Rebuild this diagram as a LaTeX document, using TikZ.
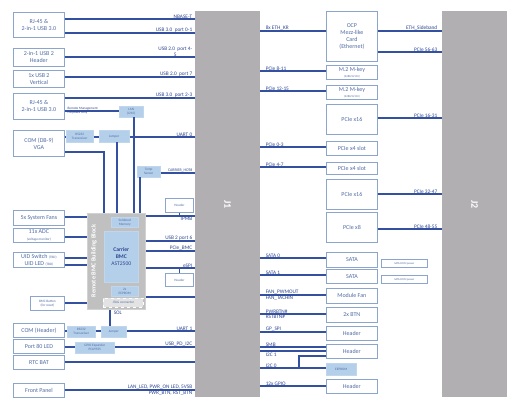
\documentclass[tikz,border=0pt]{standalone}
\usepackage{fontspec}
\setmainfont{Carlito}
\definecolor{ln}{RGB}{52,80,160}
\definecolor{bd}{RGB}{140,165,205}
\definecolor{tx}{RGB}{80,108,165}
\definecolor{lb}{RGB}{45,70,145}
\definecolor{fillb}{RGB}{180,207,234}
\definecolor{jg}{RGB}{177,175,177}
\definecolor{bmcg}{RGB}{192,192,192}
\newcommand\ftb{\fontsize{6}{6.9}\selectfont}
\newcommand\flb{\fontsize{5.3}{5.8}\selectfont}
\newcommand\fti{\fontsize{3.4}{4}\selectfont}
\newcommand\fmi{\fontsize{2.8}{3.2}\selectfont}
\newcommand\bx[6]{\node[#1,anchor=north west,minimum width=#4pt,minimum height=#5pt] (#2) at (#3) {#6};}
\begin{document}
\begin{tikzpicture}[x=1pt,y=-1pt,
  box/.style={draw=bd,line width=0.8pt,fill=white,text=tx,inner sep=0pt,align=center,font=\ftb},
  lbox/.style={draw=fillb!85!white,line width=0.5pt,fill=fillb,text=tx,inner sep=0pt,align=center,font=\fti},
  wire/.style={draw=ln,line width=1.8pt},
  lab/.style={text=lb,font=\flb,inner sep=0.6pt},
  tlab/.style={text=lb,font=\fti,inner sep=0.4pt}]
\useasboundingbox (0,0) rectangle (525,411);
\fill[white] (0,0) rectangle (525,411);
% connectors J1, J2
\bx{fill=jg,inner sep=0pt}{J1}{195,11}{65}{386}{}
\bx{fill=jg,inner sep=0pt}{J2}{442,11}{65}{386}{}
\node[text=white,font=\bfseries\fontsize{10}{10}\selectfont,rotate=-90] at (J1.center) {J1};
\node[text=white,font=\bfseries\fontsize{10}{10}\selectfont,rotate=-90] at (J2.center) {J2};
% left column
\bx{box}{rjA}{13,12}{51}{25}{RJ-45 \&\\2-in-1 USB 3.0}
\bx{box}{usbh}{13,48}{51}{18}{2-in-1 USB 2\\Header}
\bx{box}{usbv}{13,70}{51}{17}{1x USB 2\\Vertical}
\bx{box}{rjB}{13,93}{51}{26}{RJ-45 \&\\2-in-1 USB 3.0}
\bx{box}{com}{13,130}{51}{26}{COM (DB-9)\\VGA}
\bx{box}{fans}{13,210}{51}{15}{5x System Fans}
\bx{box}{adc}{13,228}{51}{14}{11x ADC\\{\fti (voltage monitor)}}
\bx{box}{uid}{13,252}{51}{15}{UID Switch {\fti (TBD)}\\UID LED {\fti (TBD)}}
\bx{box,font=\fti}{bbtn}{30,296}{34}{14}{BMC Button\\(for reset)}
\bx{box}{comh}{13,323}{51}{14}{COM (Header)}
\bx{box}{p80}{13,339}{51}{14}{Port 80 LED}
\bx{box}{rtc}{13,355}{51}{14}{RTC BAT}
\bx{box}{fp}{13,383}{51}{14}{Front Panel}
% small blue boxes
\bx{lbox}{lan}{119,106}{24}{11}{LAN\\(I210)}
\bx{lbox}{tr0}{66,130}{27}{12}{RS232\\Transceiver}
\bx{lbox}{jp0}{99,130}{30}{12}{Jumper}
\bx{lbox}{temp}{137,166}{23}{11}{Temp\\Sensor}
\bx{lbox}{tr1}{67,326}{28}{11}{RS232\\Transceiver}
\bx{lbox}{jp1}{101,326}{25}{11}{Jumper}
\bx{lbox}{gpio}{75,342}{39}{11}{GPIO Expander\\PCA9555}
\bx{box,font=\fti}{hdr1}{165,198}{28}{14}{Header}
\bx{box,font=\fti}{hdr2}{165,273}{28}{13}{Header}
% BMC block
\bx{fill=bmcg,draw=gray!35,line width=0.8pt}{blk}{87,213}{58}{96}{}
\node[text=white,font=\bfseries\fontsize{6.3}{6.3}\selectfont,rotate=90] at (94,261) {Remote BMC Building Block};
\bx{lbox}{mem}{111,217}{27}{10}{Soldered\\Memory}
\bx{lbox,font=\fontsize{5.6}{6.8}\selectfont,text=lb}{bmc}{104,231}{34}{51}{\textbf{Carrier}\\\textbf{BMC}\\AST2500}
\bx{lbox}{eep}{111,286}{27}{10}{2x\\EEPROM}
\bx{box,draw=white,dashed,fill=bmcg!45!white,font=\fti}{jtag}{103,298}{40}{9}{JTAG connector}
% right column
\bx{box}{ocp}{326,11}{51}{50}{OCP\\Mezz-like\\Card\\(Ethernet)}
\bx{box}{m2a}{326,65}{51}{14}{M.2 M-key\\[-1pt]{\fmi (2280/22110)}}
\bx{box}{m2b}{326,85}{51}{14}{M.2 M-key\\[-1pt]{\fmi (2280/22110)}}
\bx{box}{x16a}{326,104}{51}{30}{PCIe x16}
\bx{box}{x4a}{326,141}{51}{14}{PCIe x4 slot}
\bx{box}{x4b}{326,162}{51}{12}{PCIe x4 slot}
\bx{box}{x16b}{326,179}{51}{30}{PCIe x16}
\bx{box}{x8}{326,212}{51}{30}{PCIe x8}
\bx{box}{sata1}{326,252}{51}{15}{SATA}
\bx{box}{sata2}{326,269}{51}{14}{SATA}
\bx{box,font=\fmi}{dom1}{381,259}{46}{8}{SATA DOM power}
\bx{box,font=\fmi}{dom2}{381,275}{46}{8}{SATA DOM power}
\bx{box}{mfan}{326,288}{51}{15}{Module Fan}
\bx{box}{btn}{326,307}{51}{15}{2x BTN}
\bx{box}{hA}{326,326}{51}{14}{Header}
\bx{box}{hB}{326,344}{51}{14}{Header}
\bx{lbox}{eeprom}{326,363}{30}{12}{EEPROM}
\bx{box}{hC}{326,379}{51}{14}{Header}
% ---- wires left of J1
\draw[wire] (rjA.east |- 0,19) -- (J1.west |- 0,19);
\draw[wire] (rjA.east |- 0,33) -- (J1.west |- 0,33);
\draw[wire] (usbh.east |- 0,57) -- (J1.west |- 0,57);
\draw[wire] (usbv.east |- 0,77) -- (J1.west |- 0,77);
\draw[wire] (rjB.east |- 0,98) -- (J1.west |- 0,98);
\draw[wire] (rjB.east |- 0,111) -- (lan.west |- 0,111);
\draw[wire] (134,0 |- lan.south) -- (134,0 |- blk.north);
\draw[wire] (com.east |- 0,137) -- (tr0.west |- 0,137);
\draw[wire] (tr0.east |- 0,137) -- (jp0.west |- 0,137);
\draw[wire] (jp0.east |- 0,137) -- (J1.west |- 0,137);
\draw[wire] (com.east |- 0,152) -- (104,152) -- (104,0 |- blk.north);
\draw[wire] (117,0 |- jp0.south) -- (117,0 |- blk.north);
\draw[wire] (140,0 |- temp.south) -- (140,0 |- blk.north);
\draw[wire] (temp.east |- 0,173) -- (J1.west |- 0,173);
\draw[wire] (hdr1.south) -- (hdr1.south |- 0,216);
\draw[wire] (blk.east |- 0,216) -- (J1.west |- 0,216);
\draw[wire] (blk.east |- 0,241) -- (J1.west |- 0,241);
\draw[wire] (blk.east |- 0,251) -- (J1.west |- 0,251);
\draw[wire] (blk.east |- 0,268) -- (J1.west |- 0,268);
\draw[wire] (hdr2.north) -- (hdr2.north |- 0,268);
\draw[wire] (blk.east |- 0,297) -- (J1.west |- 0,297);
\draw[wire] (fans.east |- 0,217) -- (blk.west |- 0,217);
\draw[wire] (adc.east |- 0,237) -- (blk.west |- 0,237);
\draw[wire] (uid.east |- 0,258) -- (blk.west |- 0,258);
\draw[wire] (uid.east |- 0,265) -- (blk.west |- 0,265);
\draw[wire] (bbtn.east |- 0,303) -- (blk.west |- 0,303);
\draw[wire] (110,0 |- blk.south) -- (110,0 |- jp1.north);
\draw[wire] (comh.east |- 0,331) -- (tr1.west |- 0,331);
\draw[wire] (tr1.east |- 0,331) -- (jp1.west |- 0,331);
\draw[wire] (jp1.east |- 0,331) -- (J1.west |- 0,331);
\draw[wire] (p80.east |- 0,347) -- (gpio.west |- 0,347);
\draw[wire] (gpio.east |- 0,347) -- (J1.west |- 0,347);
\draw[wire] (rtc.east |- 0,362) -- (J1.west |- 0,362);
\draw[wire] (fp.east |- 0,390) -- (J1.west |- 0,390);
% labels left of J1
\node[lab,anchor=south east] at (193,19) {NBASE-T};
\node[lab,anchor=south east] at (193,33) {USB 3.0\ \ port 0-1};
\node[lab,anchor=south east,align=center] at (193,57) {USB 2.0\ \ port 4-\\5};
\node[lab,anchor=south east] at (193,77) {USB 2.0\ \ port 7};
\node[lab,anchor=south east] at (193,98) {USB 3.0\ \ port 2-3};
\node[tlab,anchor=south west] at (67,111) {Remote Management};
\node[tlab,anchor=north west] at (67,111) {Purposes Only};
\node[lab,anchor=south east] at (193,137) {UART 0};
\node[tlab,font=\fontsize{3.9}{4.4}\selectfont,anchor=south east] at (193,173) {CARRIER\_HOT\#};
\node[lab,anchor=north east] at (193,216) {IPMB};
\node[lab,anchor=south east] at (193,241) {USB 2 port 6};
\node[lab,anchor=south east] at (193,251) {PCIe\_BMC};
\node[lab,anchor=south east] at (193,268) {eSPI};
\node[lab,anchor=west] at (113,313) {SOL};
\node[lab,anchor=south east] at (193,331) {UART 1};
\node[lab,anchor=south east] at (193,347) {USB\_PD\_I2C};
\node[lab,anchor=south east] at (193,390) {LAN\_LED, PWR\_ON LED, 5VSB};
\node[lab,anchor=north east] at (193,390) {PWR\_BTN, RST\_BTN};
% ---- wires right of J1
\draw[wire] (J1.east |- 0,31) -- (ocp.west |- 0,31);
\draw[wire] (J1.east |- 0,71) -- (m2a.west |- 0,71);
\draw[wire] (J1.east |- 0,91) -- (m2b.west |- 0,91);
\draw[wire] (J1.east |- 0,147) -- (x4a.west |- 0,147);
\draw[wire] (J1.east |- 0,167) -- (x4b.west |- 0,167);
\draw[wire] (J1.east |- 0,258) -- (sata1.west |- 0,258);
\draw[wire] (J1.east |- 0,275) -- (sata2.west |- 0,275);
\draw[wire] (J1.east |- 0,295) -- (mfan.west |- 0,295);
\draw[wire] (J1.east |- 0,314) -- (btn.west |- 0,314);
\draw[wire] (J1.east |- 0,332) -- (hA.west |- 0,332);
\draw[wire] (J1.east |- 0,347) -- (hB.west |- 0,347);
\draw[wire] (J1.east |- 0,351) -- (hB.west |- 0,351);
\draw[wire] (J1.east |- 0,368) -- (eeprom.west |- 0,368);
\draw[wire] (299,368) -- (299,356) -- (hB.west |- 0,356);
\draw[wire] (J1.east |- 0,386) -- (hC.west |- 0,386);
\node[lab,anchor=south west] at (265,31) {8x ETH\_KR};
\node[lab,anchor=south west] at (265,71) {PCIe 8-11};
\node[lab,anchor=south west] at (265,91) {PCIe 12-15};
\node[lab,anchor=south west] at (265,147) {PCIe 0-3};
\node[lab,anchor=south west] at (265,167) {PCIe 4-7};
\node[lab,anchor=south west] at (265,258) {SATA 0};
\node[lab,anchor=south west] at (265,275) {SATA 1};
\node[lab,anchor=south west] at (265,295) {FAN\_PWMOUT};
\node[lab,anchor=north west] at (265,295) {FAN\_TACHIN};
\node[lab,anchor=south west] at (265,314) {PWRBTN\#};
\node[lab,anchor=north west] at (265,314) {RSTBTN\#};
\node[lab,anchor=south west] at (265,332) {GP\_SPI};
\node[lab,anchor=south west] at (265,347) {SMB};
\node[lab,anchor=north west] at (265,352) {I2C 1};
\node[lab,anchor=south west] at (265,368) {I2C 0};
\node[lab,anchor=south west] at (265,386) {12x GPIO};
% ---- wires to J2
\draw[wire] (ocp.east |- 0,31) -- (J2.west |- 0,31);
\draw[wire] (ocp.east |- 0,52) -- (J2.west |- 0,52);
\draw[wire] (x16a.east |- 0,118) -- (J2.west |- 0,118);
\draw[wire] (x16b.east |- 0,194) -- (J2.west |- 0,194);
\draw[wire] (x8.east |- 0,229) -- (J2.west |- 0,229);
\node[lab,anchor=south east] at (438,31) {ETH\_Sideband};
\node[lab,anchor=south east] at (438,52) {PCIe 56-63};
\node[lab,anchor=south east] at (438,118) {PCIe 16-31};
\node[lab,anchor=south east] at (438,194) {PCIe 32-47};
\node[lab,anchor=south east] at (438,229) {PCIe 48-55};
\end{tikzpicture}
\end{document}
